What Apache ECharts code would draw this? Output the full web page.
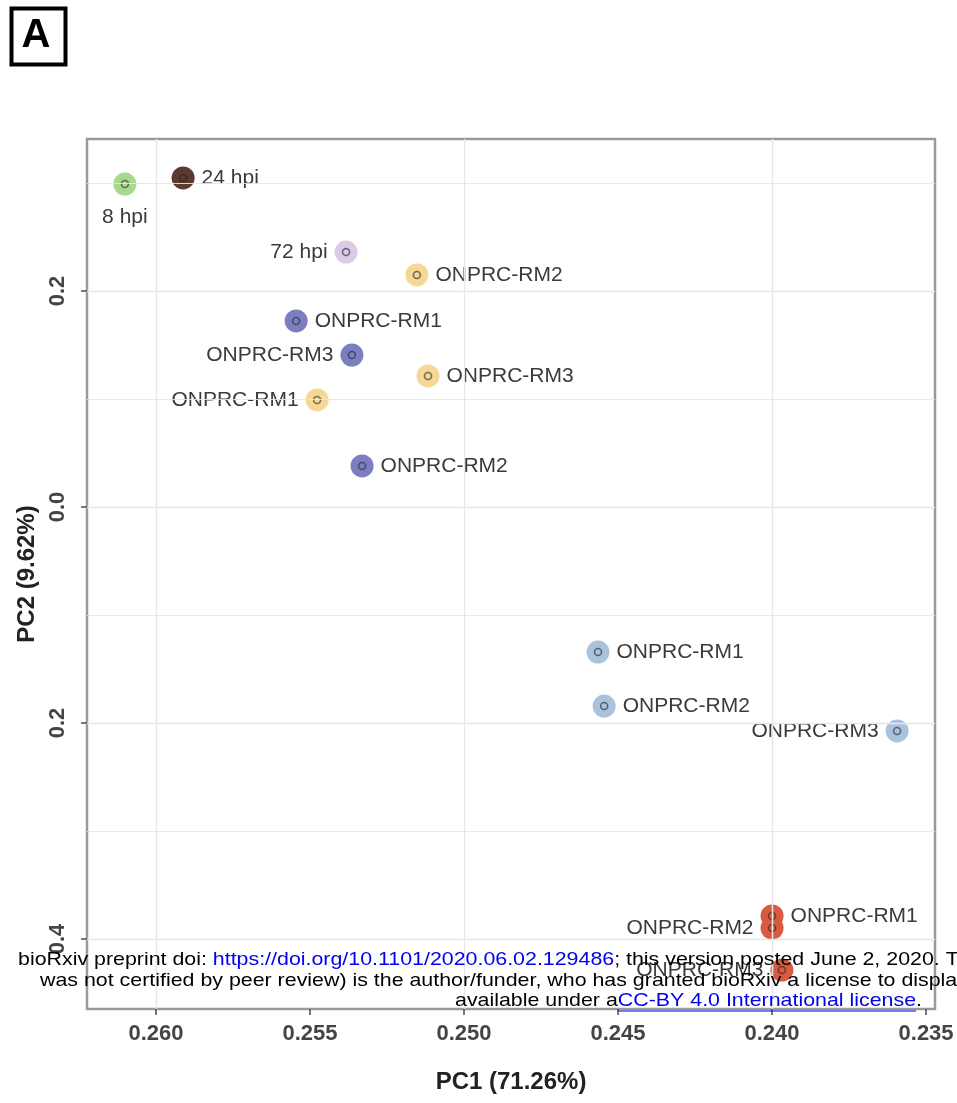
<!DOCTYPE html>
<html>
<head>
<meta charset="utf-8">
<script src="https://cdn.jsdelivr.net/npm/echarts@6/dist/echarts.min.js"></script>
<style>
  html, body { margin: 0; padding: 0; background: #ffffff; }
  #chart { width: 957px; height: 1103px; }
</style>
</head>
<body>
<div id="chart"></div>
<script>
// ---- PCA scores (PC1 / PC2) for each sample ----
const sampleNames = [
  '8 hpi', '24 hpi', '72 hpi',
  'ONPRC-RM2', 'ONPRC-RM3', 'ONPRC-RM1',
  'ONPRC-RM1', 'ONPRC-RM3', 'ONPRC-RM2',
  'ONPRC-RM1', 'ONPRC-RM2', 'ONPRC-RM3',
  'ONPRC-RM1', 'ONPRC-RM2', 'ONPRC-RM3'
];
const sampleGroup = [
  'hpi8', 'hpi24', 'hpi72',
  'gold', 'gold', 'gold',
  'slate', 'slate', 'slate',
  'sky', 'sky', 'sky',
  'red', 'red', 'red'
];
const pc1 = [
  0.26101, 0.25912, 0.25383,
  0.25153, 0.25117, 0.25477,
  0.25545, 0.25364, 0.25331,
  0.24565, 0.24545, 0.23594,
  0.24000, 0.24000, 0.23968
];
const pc2 = [
  0.299, 0.3046, 0.236,
  0.2148, 0.1213, 0.0991,
  0.1722, 0.1407, 0.038,
  -0.1343, -0.1843, -0.2074,
  -0.3787, -0.3898, -0.4287
];

// ---- axis ticks ----
const xTicks = [0.260, 0.255, 0.250, 0.245, 0.240, 0.235];
const yTicks = [0.2, 0.0, -0.2, -0.4];

// ---- styling ----
const groupColors = {
  hpi8: '#a7d98d',
  hpi24: '#5b3a2f',
  hpi72: '#dccbe7',
  gold: '#f5d796',
  slate: '#7b7fc1',
  sky: '#a9c2de',
  red: '#d85a40'
};
// label side for each sample (same order as sampleNames)
const labelSide = [
  'bottom', 'right', 'left',
  'right', 'right', 'left',
  'right', 'left', 'right',
  'right', 'right', 'left',
  'right', 'left', 'left'
];

const X_MIN = 0.23471, X_MAX = 0.26224;
const Y_MIN = -0.4648, Y_MAX = 0.3407;

function midpoints(ticks, lo, hi) {
  const s = ticks.slice().sort((a, b) => a - b);
  const step = s[1] - s[0];
  const out = [];
  for (let v = s[0] - step / 2; v <= s[s.length - 1] + step / 2 + 1e-9; v += step) {
    if (v > lo && v < hi) out.push(+v.toFixed(5));
  }
  return out;
}
const xMinor = midpoints(xTicks, X_MIN, X_MAX);
const yMinor = midpoints(yTicks, Y_MIN, Y_MAX);

const gridColor = '#e7e7e7';
const gridLines = [].concat(
  xTicks.map(v => ({ xAxis: v, lineStyle: { width: 1.3 } })),
  xMinor.map(v => ({ xAxis: v, lineStyle: { width: 0.9 } })),
  yTicks.map(v => ({ yAxis: v, lineStyle: { width: 1.3 } })),
  yMinor.map(v => ({ yAxis: v, lineStyle: { width: 0.9 } }))
);

const groups = Object.keys(groupColors);
const pointSeries = groups.map(g => ({
  type: 'scatter',
  name: g,
  symbol: 'circle',
  symbolSize: 23,
  z: 3,
  itemStyle: { color: groupColors[g], opacity: 1 },
  label: {
    show: true,
    formatter: '{b}',
    color: '#3a3a3a',
    fontSize: 21,
    fontFamily: 'Liberation Sans, Arial, sans-serif',
    distance: 7
  },
  labelLayout: { hideOverlap: false },
  data: sampleNames
    .map((n, i) => ({ i, n }))
    .filter(d => sampleGroup[d.i] === g)
    .map(d => ({
      name: d.n,
      value: [pc1[d.i], pc2[d.i]],
      label: { position: labelSide[d.i], distance: labelSide[d.i] === 'bottom' ? 11 : 7 }
    }))
}));

// small dark ring drawn in the centre of every point
const ringSeries = {
  type: 'scatter',
  symbol: 'circle',
  symbolSize: 7,
  z: 4,
  silent: true,
  data: pc1.map((x, i) => ({
    value: [x, pc2[i]],
    itemStyle: { color: groupColors[sampleGroup[i]], borderColor: 'rgba(40,36,36,0.75)', borderWidth: 1.6 }
  }))
};

const gridSeries = {
  type: 'scatter',
  data: [],
  z: 1,
  silent: true,
  markLine: {
    silent: true,
    symbol: 'none',
    animation: false,
    label: { show: false },
    lineStyle: { color: gridColor, type: 'solid' },
    data: gridLines
  }
};

const sans = 'Liberation Sans, Arial, sans-serif';

// preprint notice text, slightly widened like the rendered page
const NOTE_FONT = '19px ' + sans;
const NOTE_SCALE = 1.125;
const noteLine3a = 'available under a';
const noteLink3 = 'CC-BY 4.0 International license';
const measureCtx = document.createElement('canvas').getContext('2d');
measureCtx.font = NOTE_FONT;
const underlineX1 = 455 + measureCtx.measureText(noteLine3a).width * NOTE_SCALE;
const underlineX2 = underlineX1 + measureCtx.measureText(noteLink3).width * NOTE_SCALE;

const option = {
  animation: false,
  backgroundColor: '#ffffff',
  grid: {
    left: 87, right: 22, top: 139, bottom: 94,
    show: true,
    borderColor: '#9a9a9a',
    borderWidth: 2.5,
    backgroundColor: '#ffffff'
  },
  xAxis: {
    type: 'value',
    inverse: true,
    min: X_MIN,
    max: X_MAX,
    axisLine: { show: false, onZero: false },
    splitLine: { show: false },
    axisTick: { show: true, customValues: xTicks, length: 6, lineStyle: { color: '#555', width: 1.6 } },
    axisLabel: {
      customValues: xTicks,
      formatter: v => v.toFixed(3),
      color: '#444',
      fontWeight: 'bold',
      fontSize: 22,
      fontFamily: sans,
      margin: 14
    },
    name: 'PC1 (71.26%)',
    nameLocation: 'middle',
    nameGap: 61,
    nameTextStyle: { color: '#222', fontWeight: 'bold', fontSize: 24, fontFamily: sans }
  },
  yAxis: {
    type: 'value',
    min: Y_MIN,
    max: Y_MAX,
    axisLine: { show: false, onZero: false },
    splitLine: { show: false },
    axisTick: { show: true, customValues: yTicks, length: 6, lineStyle: { color: '#555', width: 1.6 } },
    axisLabel: {
      customValues: yTicks,
      formatter: v => Math.abs(v).toFixed(1),
      rotate: 90,
      color: '#444',
      fontWeight: 'bold',
      fontSize: 22,
      fontFamily: sans,
      margin: 18
    },
    name: 'PC2 (9.62%)',
    nameLocation: 'middle',
    nameGap: 43,
    nameTextStyle: { color: '#222', fontWeight: 'bold', fontSize: 24, fontFamily: sans }
  },
  graphic: [
    // panel letter
    { type: 'rect', left: 9, top: 6, z: 10,
      shape: { width: 54, height: 56 },
      style: { fill: 'none', stroke: '#000', lineWidth: 4 } },
    { type: 'text', x: 36, y: 36, z: 10,
      style: { text: 'A', font: 'bold 40px ' + sans, fill: '#000',
               align: 'center', verticalAlign: 'middle' } },
    // preprint notice overlaid on the panel
    { type: 'text', x: 18, y: 960, z: 20, scaleX: NOTE_SCALE,
      style: {
        text: 'bioRxiv preprint doi: {l|https://doi.org/10.1101/2020.06.02.129486}; this version posted June 2, 2020. The copyright holder for this preprint (which',
        font: NOTE_FONT, fill: '#000', verticalAlign: 'middle',
        rich: { l: { fill: '#0000ee', font: NOTE_FONT } }
      } },
    { type: 'text', x: 40, y: 981, z: 20, scaleX: NOTE_SCALE,
      style: {
        text: 'was not certified by peer review) is the author/funder, who has granted bioRxiv a license to display the preprint in perpetuity. It is made',
        font: NOTE_FONT, fill: '#000', verticalAlign: 'middle'
      } },
    { type: 'text', x: 455, y: 1001, z: 20, scaleX: NOTE_SCALE,
      style: {
        text: noteLine3a + '{l|' + noteLink3 + '}.',
        font: NOTE_FONT, fill: '#000', verticalAlign: 'middle',
        rich: { l: { fill: '#0000ee', font: NOTE_FONT } }
      } },
    { type: 'line', z: 20,
      shape: { x1: underlineX1, y1: 1011, x2: underlineX2, y2: 1011 },
      style: { stroke: '#0000ee', lineWidth: 1 } }
  ],
  series: [gridSeries].concat(pointSeries, [ringSeries])
};

const chart = echarts.init(document.getElementById('chart'), null, { renderer: 'canvas' });
chart.setOption(option);
</script>
</body>
</html>
